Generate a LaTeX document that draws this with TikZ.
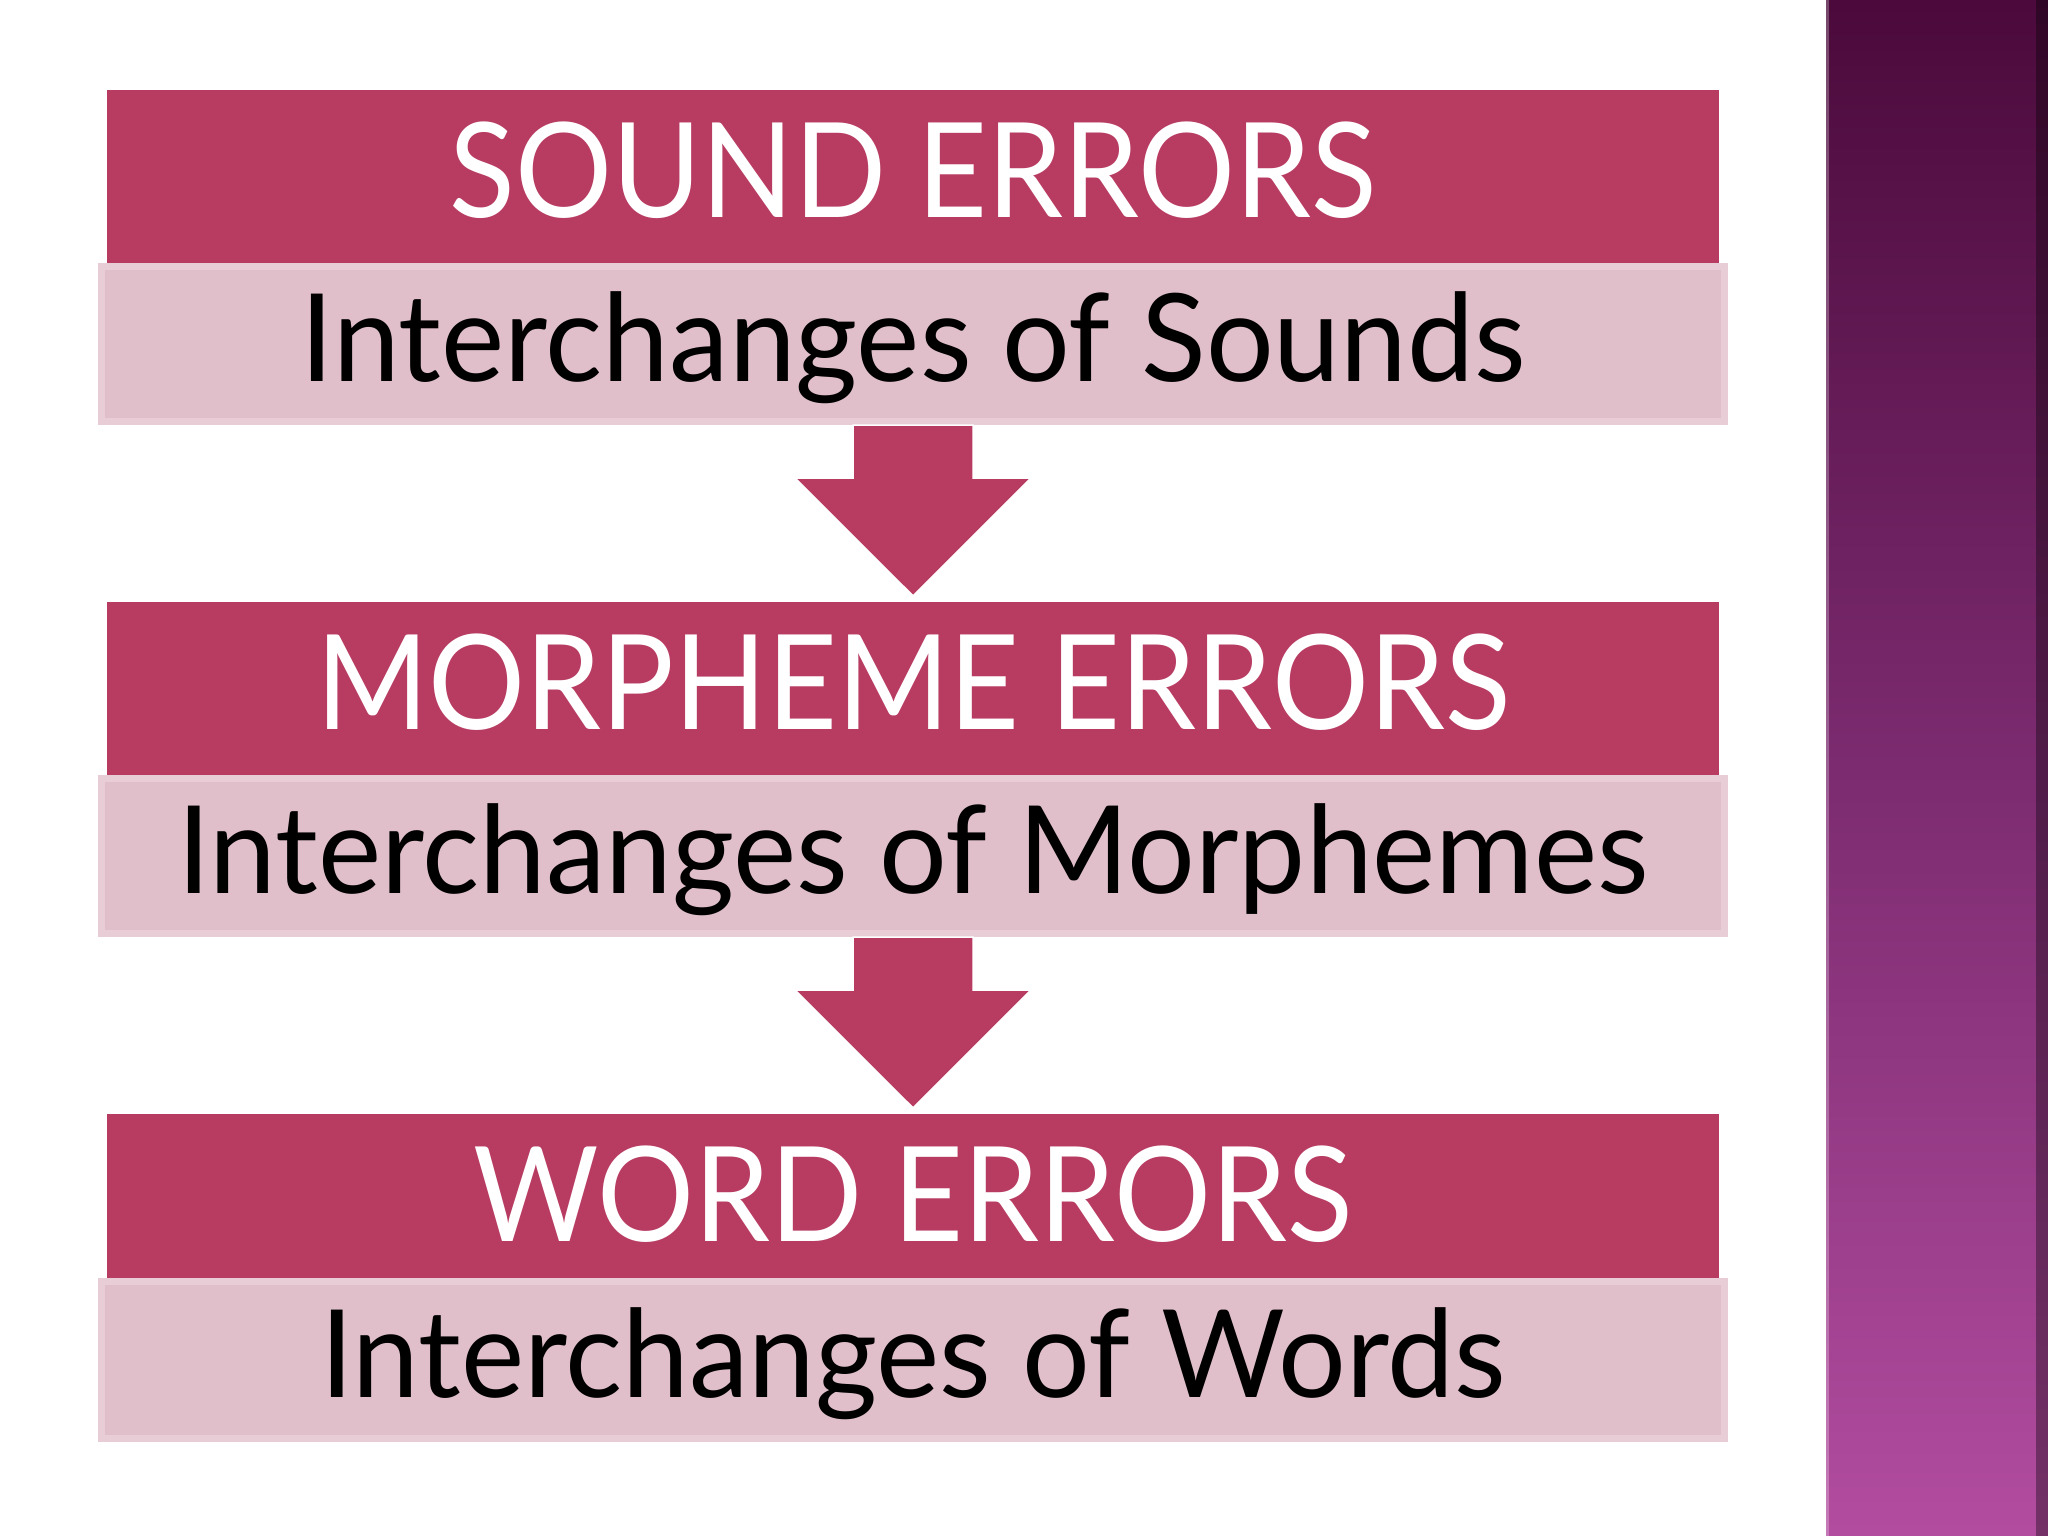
\documentclass[tikz,border=0pt]{standalone}
\usepackage{fontspec}
\setmainfont{Lato}
\newfontfamily\titlefont[FakeStretch=0.918]{Lato}
\newfontfamily\subfont[FakeStretch=0.98]{Lato}
\usetikzlibrary{calc}
\definecolor{hdr}{HTML}{B83B62}
\definecolor{sub}{HTML}{E0BFCB}
\definecolor{subedge}{HTML}{E8CDD7}
\definecolor{bartop}{HTML}{4B0A3B}
\definecolor{barmid}{HTML}{7C2B70}
\definecolor{barbot}{HTML}{B24C9F}
\tikzset{
  hdrbox/.style={fill=hdr, draw=none, minimum width=1612pt, minimum height=173pt, inner sep=0pt},
  subbox/.style={fill=sub, draw=subedge, line width=7pt, minimum width=1623pt, minimum height=155pt, inner sep=0pt},
  hdrtext/.style={anchor=base, text=white, inner sep=0pt, font=\titlefont\fontsize{132}{150}\selectfont},
  subtext/.style={anchor=base, text=black, inner sep=0pt, font=\subfont\fontsize{122}{140}\selectfont},
  flowarrow/.style={fill=hdr, draw=white, line width=1.5pt, line join=miter}
}
\begin{document}
\begin{tikzpicture}[x=1pt,y=-1pt]
\useasboundingbox (0,0) rectangle (2048,1536);
\fill[white] (0,0) rectangle (2048,1536);
% right decorative bar
\shade[top color=bartop, bottom color=barbot, middle color=barmid] (1826,0) rectangle (2048,1536);
\shade[left color=barmid!0!black, right color=black, opacity=0.35] (2036,0) rectangle (2048,1536);
\fill[white, opacity=0.25] (1826,0) rectangle (1829,1536);
% boxes
\node[hdrbox] (h1) at (913,176.5) {};
\node[subbox] (s1) at (913,344) {};
\node[hdrbox] (h2) at (913,688.5) {};
\node[subbox] (s2) at (913,856) {};
\node[hdrbox, minimum height=164pt] (h3) at (913,1196) {};
\node[subbox, minimum height=157pt] (s3) at (913,1360) {};
% texts
\node[hdrtext] (t1) at (913,217) {SOUND ERRORS};
\node[subtext] (u1) at (913,381) {Interchanges of Sounds};
\node[hdrtext] (t2) at (913,729) {MORPHEME ERRORS};
\node[subtext] (u2) at (913,893) {Interchanges of Morphemes};
\node[hdrtext] (t3) at (913,1241) {WORD ERRORS};
\node[subtext] (u3) at (913,1397) {Interchanges of Words};
% arrows
\foreach \a/\b in {s1/h2, s2/h3}{
  \coordinate (p) at ($(\a.south)+(0,0)$);
  \coordinate (q) at ($(\b.north)+(0,-6)$);
  \filldraw[flowarrow] ($(p)+(-60,0)$) -- ($(p)+(60,0)$) -- ($(p)+(60,53)$) -- ($(p)+(118,53)$) -- (q) -- ($(p)+(-118,53)$) -- ($(p)+(-60,53)$) -- cycle;
}
\end{tikzpicture}
\end{document}
